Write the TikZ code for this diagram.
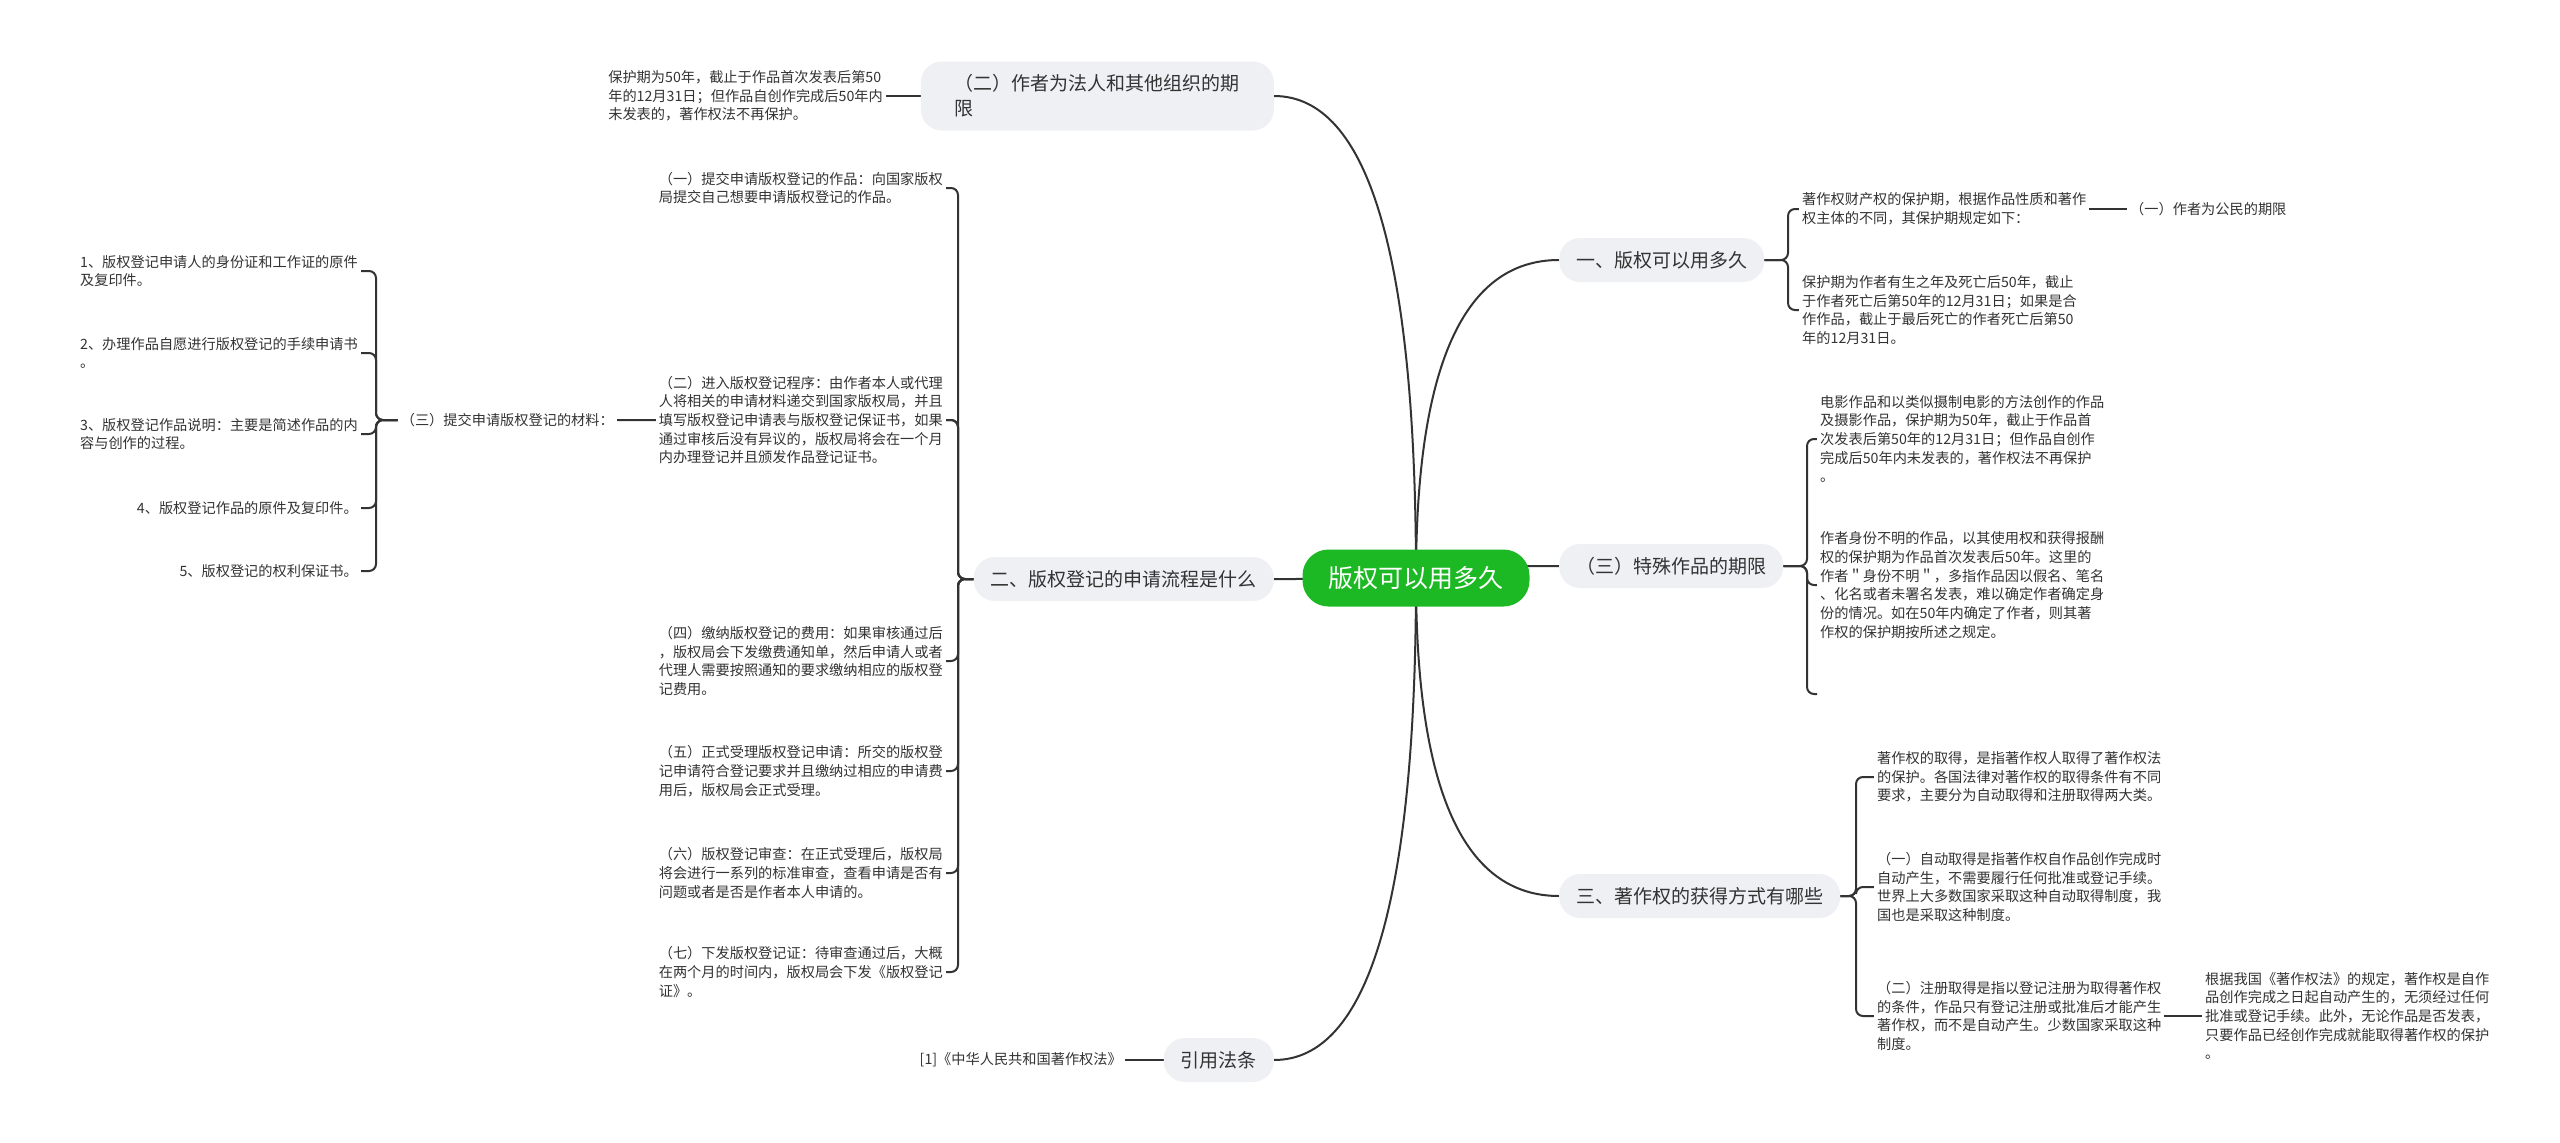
\documentclass[tikz,border=0pt]{standalone}
\usepackage{fontspec}
\setmainfont{Noto Sans CJK SC}
\usetikzlibrary{backgrounds,calc}
\definecolor{linec}{HTML}{333333}
\definecolor{textc}{HTML}{333333}
\definecolor{pillc}{HTML}{EEF0F3}
\definecolor{rootc}{RGB}{29,185,37}
\tikzset{
  conn/.style={draw=linec, line width=2pt, rounded corners=7pt},
  link/.style={draw=linec, line width=2pt},
  txt/.style={fill=white, font=\fontsize{14.2}{18.7}\selectfont, text=textc, align=left, inner sep=3pt},
  pill/.style={fill=pillc, rounded corners=21pt, font=\fontsize{19}{25}\selectfont, text=textc, align=left, inner xsep=17pt, minimum height=44pt},
  rootn/.style={fill=rootc, rounded corners=26pt, font=\fontsize{25}{30}\selectfont, text=white, inner xsep=26pt, minimum height=57pt},
}
\newcommand\mmcurve[2]{\draw[link] (#1) .. controls ($(#1)!0.667!(#1 |- #2)$) and ($(#2)!0.667!(#1 |- #2)$) .. (#2);}
\newcommand\rbr[3]{\draw[conn] (#1.east) -- (#3 |- #1.east) -- (#3 |- #2) -- (#2);}
\newcommand\lbr[3]{\draw[conn] (#1.west) -- (#3 |- #1.west) -- (#3 |- #2) -- (#2);}
\begin{document}
\begin{tikzpicture}[x=1pt,y=-1pt]
\useasboundingbox (0,0) rectangle (2560,1143);
% root
\node[rootn] (root) at (1416,578) {版权可以用多久};
% left main branches
\node[pill, anchor=east, inner xsep=34pt, minimum height=69pt] (faren) at (1274,96) {（二）作者为法人和其他组织的期\\限};
\node[pill, anchor=east] (liucheng) at (1274,579) {二、版权登记的申请流程是什么};
\node[pill, anchor=east] (yinyong) at (1274,1060) {引用法条};
% right main branches
\node[pill, anchor=west] (yi) at (1559,260) {一、版权可以用多久};
\node[pill, anchor=west] (tese) at (1559,566) {（三）特殊作品的期限};
\node[pill, anchor=west] (san) at (1559,896) {三、著作权的获得方式有哪些};
% bracket x positions
\coordinate (bxL) at (958,0);
\coordinate (bxI) at (376,0);
\coordinate (bxY) at (1788,0);
\coordinate (bxT) at (1807,0);
\coordinate (bxS) at (1856,0);
% faren child
\node[txt, anchor=east] (A) at (886,96) {保护期为50年，截止于作品首次发表后第50\\年的12月31日；但作品自创作完成后50年内\\未发表的，著作权法不再保护。};
% liucheng children
\node[txt, anchor=east] (L1) at (946,188) {（一）提交申请版权登记的作品：向国家版权\\局提交自己想要申请版权登记的作品。};
\node[txt, anchor=east] (L3) at (617,420) {（三）提交申请版权登记的材料：};
\node[txt, anchor=east] (L4) at (946,661) {（四）缴纳版权登记的费用：如果审核通过后\\，版权局会下发缴费通知单，然后申请人或者\\代理人需要按照通知的要求缴纳相应的版权登\\记费用。};
\node[txt, anchor=east] (L5) at (946,771) {（五）正式受理版权登记申请：所交的版权登\\记申请符合登记要求并且缴纳过相应的申请费\\用后，版权局会正式受理。};
\node[txt, anchor=east] (L6) at (946,873) {（六）版权登记审查：在正式受理后，版权局\\将会进行一系列的标准审查，查看申请是否有\\问题或者是否是作者本人申请的。};
\node[txt, anchor=east] (L7) at (946,972) {（七）下发版权登记证：待审查通过后，大概\\在两个月的时间内，版权局会下发《版权登记\\证》。};
% L3 children
\node[txt, anchor=east] (I1) at (361,271) {1、版权登记申请人的身份证和工作证的原件\\及复印件。};
\node[txt, anchor=east] (I2) at (361,353) {2、办理作品自愿进行版权登记的手续申请书\\。};
\node[txt, anchor=east] (I3) at (361,434) {3、版权登记作品说明：主要是简述作品的内\\容与创作的过程。};
\node[txt, anchor=east] (I4) at (361,508) {4、版权登记作品的原件及复印件。};
\node[txt, anchor=east] (I5) at (361,571) {5、版权登记的权利保证书。};
% yinyong child
\node[txt, anchor=east] (cite) at (1125,1060) {[1]《中华人民共和国著作权法》};
% yi children
\node[txt, anchor=west] (R1) at (1799,209) {著作权财产权的保护期，根据作品性质和著作\\权主体的不同，其保护期规定如下：};
\node[txt, anchor=west] (R1c) at (2127,209) {（一）作者为公民的期限};
\node[txt, anchor=west] (R2) at (1799,310) {保护期为作者有生之年及死亡后50年，截止\\于作者死亡后第50年的12月31日；如果是合\\作作品，截止于最后死亡的作者死亡后第50\\年的12月31日。};
% tese children
\node[txt, anchor=west] (T1) at (1817,439) {电影作品和以类似摄制电影的方法创作的作品\\及摄影作品，保护期为50年，截止于作品首\\次发表后第50年的12月31日；但作品自创作\\完成后50年内未发表的，著作权法不再保护\\。};
\node[txt, anchor=west] (T2) at (1817,585) {作者身份不明的作品，以其使用权和获得报酬\\权的保护期为作品首次发表后50年。这里的\\作者＂身份不明＂，多指作品因以假名、笔名\\、化名或者未署名发表，难以确定作者确定身\\份的情况。如在50年内确定了作者，则其著\\作权的保护期按所述之规定。};
\coordinate (T3) at (1817,694);
% san children
\node[txt, anchor=west] (S1) at (1874,777) {著作权的取得，是指著作权人取得了著作权法\\的保护。各国法律对著作权的取得条件有不同\\要求，主要分为自动取得和注册取得两大类。};
\node[txt, anchor=west] (S2) at (1874,887) {（一）自动取得是指著作权自作品创作完成时\\自动产生，不需要履行任何批准或登记手续。\\世界上大多数国家采取这种自动取得制度，我\\国也是采取这种制度。};
\node[txt, anchor=west] (S3) at (1874,1016) {（二）注册取得是指以登记注册为取得著作权\\的条件，作品只有登记注册或批准后才能产生\\著作权，而不是自动产生。少数国家采取这种\\制度。};
\node[txt, anchor=west] (S3c) at (2202,1016) {根据我国《著作权法》的规定，著作权是自作\\品创作完成之日起自动产生的，无须经过任何\\批准或登记手续。此外，无论作品是否发表，\\只要作品已经创作完成就能取得著作权的保护\\。};
% L2 drawn last among left texts (covers L3's connector)
\node[txt, anchor=east] (L2) at (946,420) {（二）进入版权登记程序：由作者本人或代理\\人将相关的申请材料递交到国家版权局，并且\\填写版权登记申请表与版权登记保证书，如果\\通过审核后没有异议的，版权局将会在一个月\\内办理登记并且颁发作品登记证书。};
\begin{scope}[on background layer]
\fill[white] (0,0) rectangle (2560,1143);
% root curves
\mmcurve{root.center}{faren.east}
\mmcurve{root.center}{liucheng.east}
\mmcurve{root.center}{yinyong.east}
\mmcurve{root.center}{yi.west}
\mmcurve{root.center}{tese.west}
\mmcurve{root.center}{san.west}
% single children
\draw[link] (faren.west) -- (A.east);
\draw[link] (yinyong.west) -- (cite.east);
\draw[link] (R1.east) -- (R1c.west);
\draw[link] (S3.east) -- (S3c.west);
% liucheng bracket
\lbr{liucheng}{L1.east}{bxL}
\lbr{liucheng}{L2.east}{bxL}
\lbr{liucheng}{L3.east}{bxL}
\lbr{liucheng}{L4.east}{bxL}
\lbr{liucheng}{L5.east}{bxL}
\lbr{liucheng}{L6.east}{bxL}
\lbr{liucheng}{L7.east}{bxL}
% L3 bracket
\lbr{L3}{I1.east}{bxI}
\lbr{L3}{I2.east}{bxI}
\lbr{L3}{I3.east}{bxI}
\lbr{L3}{I4.east}{bxI}
\lbr{L3}{I5.east}{bxI}
% right brackets
\rbr{yi}{R1.west}{bxY}
\rbr{yi}{R2.west}{bxY}
\rbr{tese}{T1.west}{bxT}
\rbr{tese}{T2.west}{bxT}
\rbr{tese}{T3}{bxT}
\rbr{san}{S1.west}{bxS}
\rbr{san}{S2.west}{bxS}
\rbr{san}{S3.west}{bxS}
\end{scope}
\end{tikzpicture}
\end{document}
